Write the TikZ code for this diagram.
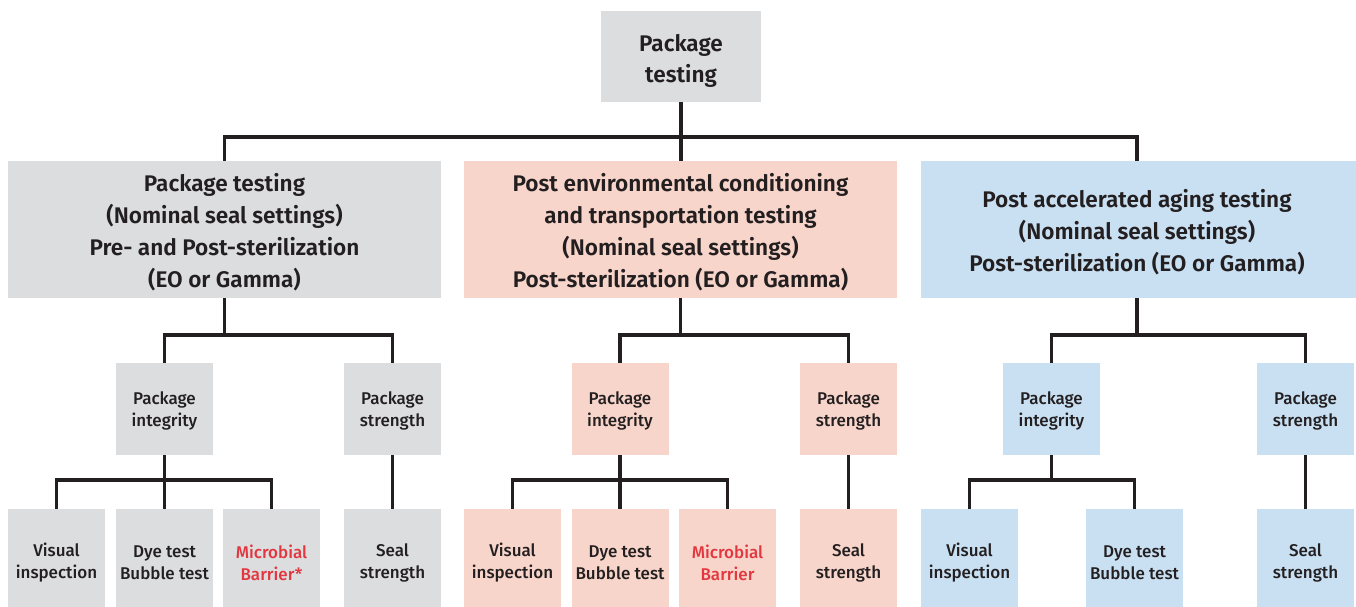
\documentclass[tikz,border=0pt]{standalone}
\usepackage{fontspec}
\setmainfont{Fira Sans}
\newfontfamily\semif{Fira Sans SemiBold}
\newfontfamily\medf{Fira Sans Medium}
\definecolor{gbox}{HTML}{DCDDDF}
\definecolor{pbox}{HTML}{F8D5CA}
\definecolor{bbox}{HTML}{C9E0F3}
\definecolor{ink}{HTML}{231F20}
\definecolor{redt}{HTML}{E2373F}
\tikzset{
  bx/.style={inner sep=0pt, align=center, text=ink, anchor=center},
  big/.style={bx, font=\semif\fontsize{22.6}{32}\selectfont},
  small/.style={bx, font=\medf\fontsize{17}{22}\selectfont, minimum width=97pt},
  lvlthree/.style={small, minimum height=92pt},
  lvlfour/.style={small, minimum height=98pt},
  conn/.style={draw=ink, line width=3.5pt, line join=miter}
}
\begin{document}
\begin{tikzpicture}[x=1pt,y=-1pt]
\useasboundingbox (0,0) rectangle (1356,607);
% top
\node[big, fill=gbox, minimum width=160pt, minimum height=91pt] (top) at (681,56.5) {};
\node[big, font=\semif\fontsize{22.6}{31}\selectfont] (topt) at (681,60.5) {Package\\testing};
% level 2
\node[big, fill=gbox, minimum width=433pt, minimum height=137pt] (L) at (224.5,229.5) {};
\node[big] (Lt) at (224.5,232.5) {Package testing\\(Nominal seal settings)\\Pre- and Post-sterilization\\(EO or Gamma)};
\node[big, fill=pbox, minimum width=433pt, minimum height=137pt] (M) at (680.5,229.5) {};
\node[big] (Mt) at (680.5,232.5) {Post environmental conditioning\\and transportation testing\\(Nominal seal settings)\\Post-sterilization (EO or Gamma)};
\node[big, fill=bbox, minimum width=435pt, minimum height=137pt] (R) at (1138.5,229.5) {};
\node[big] (Rt) at (1137,232.5) {Post accelerated aging testing\\(Nominal seal settings)\\Post-sterilization (EO or Gamma)};
% level 3
\foreach \n/\x/\c/\t in {Li/164.5/gbox/integrity, Ls/392.5/gbox/strength, Mi/620/pbox/integrity, Ms/848.5/pbox/strength, Ri/1051.5/bbox/integrity, Rs/1305.5/bbox/strength}{
  \node[lvlthree, fill=\c] (\n) at (\x,409) {};
  \node[small] (\n t) at (\x,411) {Package\\\t};
}
% level 4
\foreach \n/\x/\c/\t/\tc in {Lv/56.5/gbox/{Visual\\inspection}/ink, Ld/164.5/gbox/{Dye test\\Bubble test}/ink, Lm/271.5/gbox/{Microbial\\Barrier*}/redt, Lseal/392.5/gbox/{Seal\\strength}/ink, Mv/512.5/pbox/{Visual\\inspection}/ink, Md/620/pbox/{Dye test\\Bubble test}/ink, Mm/727.5/pbox/{Microbial\\Barrier}/redt, Mseal/848.5/pbox/{Seal\\strength}/ink, Rv/969.5/bbox/{Visual\\inspection}/ink, Rd/1134.5/bbox/{Dye test\\Bubble test}/ink, Rseal/1305.5/bbox/{Seal\\strength}/ink}{
  \node[lvlfour, fill=\c] (\n) at (\x,558) {};
  \node[small, text=\tc] (\n t) at (\x,562.5) {\t};
}
% buses
\coordinate (b0) at (681,137);
\coordinate (bL) at (224.5,335);
\coordinate (bM) at (680.5,335);
\coordinate (bR) at (1137,335);
\coordinate (bLi) at (164.5,480);
\coordinate (bMi) at (620,480);
\coordinate (bRi) at (1051.5,480);
% connectors
\draw[conn] (top.south) -- (b0);
\draw[conn] (L.north) |- (b0) -| (R.north -| bR);
\draw[conn] (M.north -| b0) -- (b0);
\draw[conn] (L.south) -- (bL);
\draw[conn] (Li.north) |- (bL) -| (Ls.north);
\draw[conn] (M.south) -- (bM);
\draw[conn] (Mi.north) |- (bM) -| (Ms.north);
\draw[conn] (R.south -| bR) -- (bR);
\draw[conn] (Ri.north) |- (bR) -| (Rs.north);
\draw[conn] (Li.south) -- (Ld.north);
\draw[conn] (Lv.north) |- (bLi) -| (Lm.north);
\draw[conn] (Ls.south) -- (Lseal.north);
\draw[conn] (Mi.south) -- (Md.north);
\draw[conn] (Mv.north) |- (bMi) -| (Mm.north);
\draw[conn] (Ms.south) -- (Mseal.north);
\draw[conn] (Ri.south) -- (bRi);
\draw[conn] (Rv.north) |- (bRi) -| (Rd.north);
\draw[conn] (Rs.south) -- (Rseal.north);
\end{tikzpicture}
\end{document}
